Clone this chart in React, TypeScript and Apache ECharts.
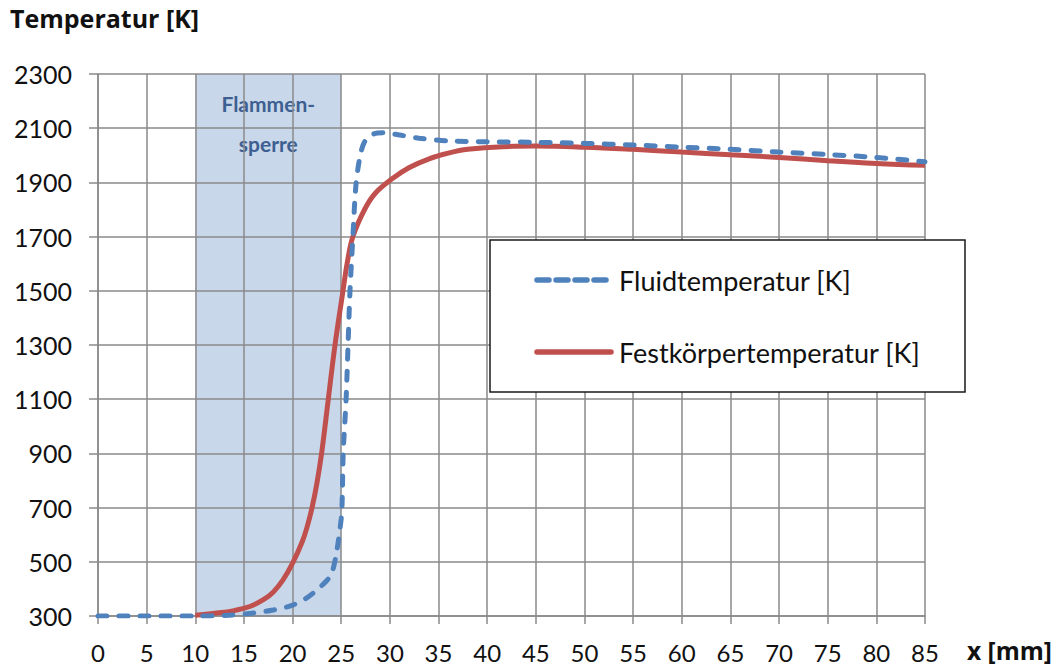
import React, { useEffect, useRef } from "react";
import * as echarts from "echarts";

const xTicks = { min: 0, max: 85, interval: 5 };
const yTicks = { min: 300, max: 2300, interval: 200 };

const fluidX = [0, 5, 10, 13, 15.7, 18, 20, 21.5, 22.5, 23.5, 24, 24.5, 25, 25.1, 25.2, 25.5, 25.7, 25.9, 26.2, 26.5, 26.9, 27.4, 28.3, 29.3, 31, 33, 36, 40, 45, 50, 55, 60, 65, 70, 75, 80, 85];
const fluidT = [300, 300, 300, 302, 310, 322, 340, 368, 396, 430, 455, 530, 660, 730, 900, 1100, 1300, 1500, 1700, 1886, 1990, 2050, 2078, 2083, 2075, 2063, 2053, 2050, 2048, 2044, 2038, 2030, 2022, 2012, 2003, 1992, 1976];

const solidX = [10, 12, 14, 15.6, 17, 18, 19, 20, 21, 21.5, 22, 22.5, 23, 23.67, 24.36, 25.18, 25.6, 26.2, 27.4, 28.5, 30.3, 32, 34.1, 36, 38, 41.6, 45, 50, 55, 60, 65, 70, 75, 80, 85];
const solidT = [303, 310, 320, 335, 360, 388, 432, 495, 575, 630, 700, 790, 905, 1100, 1300, 1500, 1600, 1700, 1800, 1860, 1915, 1955, 1988, 2008, 2022, 2032, 2034, 2030, 2022, 2012, 2002, 1992, 1980, 1970, 1963];

const seriesNames = ["Fluidtemperatur [K]", "Festkörpertemperatur [K]"];
const seriesColors = ["#4f81bd", "#c0504d"];
const shadeRange = [10, 25];
const shadeLabel = "Flammen-\nsperre";
const yTitle = "Temperatur [K]";
const xTitle = "x [mm]";

const FONT = "Lato, 'Open Sans', sans-serif";
const TITLE_FONT = "'Open Sans', Lato, sans-serif";

export default function App() {
  const ref = useRef<HTMLDivElement>(null);
  useEffect(() => {
    if (!ref.current) return;
    const chart = echarts.init(ref.current, null, { renderer: "svg" });
    const grid = "#8a8a8a";
    chart.setOption({
      animation: false,
      backgroundColor: "#ffffff",
      textStyle: { fontFamily: FONT },
      grid: { left: 98, top: 74, right: 133, bottom: 54, containLabel: false },
      graphic: [
        {
          type: "text",
          left: 10,
          top: 5,
          style: { text: yTitle, font: `bold 25px ${TITLE_FONT}`, fill: "#111" },
        },
        {
          type: "text",
          left: 967,
          top: 638,
          style: { text: xTitle, font: `bold 24.5px ${TITLE_FONT}`, fill: "#111" },
        },
        {
          type: "rect",
          z: 10,
          shape: { x: 490, y: 240, width: 475, height: 152 },
          style: { fill: "#ffffff", stroke: "#1a1a1a", lineWidth: 1.5 },
        },
        {
          type: "line",
          z: 11,
          shape: { x1: 537, y1: 280, x2: 611, y2: 280 },
          style: { stroke: seriesColors[0], lineWidth: 5.5, lineDash: [12, 7], lineCap: "round" },
        },
        {
          type: "line",
          z: 11,
          shape: { x1: 537, y1: 352, x2: 611, y2: 352 },
          style: { stroke: seriesColors[1], lineWidth: 5.5, lineCap: "round" },
        },
      ],
      legend: {
        data: seriesNames,
        orient: "vertical",
        left: 613,
        top: 265,
        padding: 0,
        itemGap: 42,
        itemWidth: 0,
        itemHeight: 0,
        z: 20,
        textStyle: { fontFamily: FONT, fontSize: 27, color: "#111", lineHeight: 30 },
      },
      xAxis: {
        type: "value",
        min: xTicks.min,
        max: xTicks.max,
        interval: xTicks.interval,
        z: 2,
        axisLine: { show: true, lineStyle: { color: grid, width: 1.5 } },
        axisTick: { show: true, length: 8, lineStyle: { color: grid, width: 1.5 } },
        splitLine: { show: true, lineStyle: { color: grid, width: 1.5 } },
        axisLabel: { fontFamily: FONT, fontSize: 24, color: "#111", margin: 24 },
      },
      yAxis: {
        type: "value",
        min: yTicks.min,
        max: yTicks.max,
        interval: yTicks.interval,
        z: 2,
        axisLine: { show: true, lineStyle: { color: grid, width: 1.5 } },
        axisTick: { show: true, length: 9, lineStyle: { color: grid, width: 1.5 } },
        splitLine: { show: true, lineStyle: { color: grid, width: 1.5 } },
        axisLabel: {
          fontFamily: FONT,
          fontSize: 25,
          color: "#111",
          margin: 26,
          formatter: (v: number) => String(v),
        },
      },
      series: [
        {
          type: "line",
          name: "shade",
          z: 0,
          data: [],
          silent: true,
          markArea: {
            z: 1,
            silent: true,
            itemStyle: { color: "#c9d7ea" },
            label: {
              show: true,
              position: "insideTop",
              distance: 9,
              formatter: shadeLabel,
              fontFamily: FONT,
              fontWeight: "bold",
              fontSize: 21,
              lineHeight: 40,
              color: "#3d5f91",
            },
            data: [[{ xAxis: shadeRange[0] }, { xAxis: shadeRange[1] }]],
          },
        },
        {
          type: "line",
          name: seriesNames[1],
          z: 3,
          data: solidX.map((x, i) => [x, solidT[i]]),
          showSymbol: false,
          symbol: "none",
          smooth: 0.4,
          itemStyle: { color: seriesColors[1] },
          lineStyle: { color: seriesColors[1], width: 5 },
        },
        {
          type: "line",
          name: seriesNames[0],
          z: 4,
          data: fluidX.map((x, i) => [x, fluidT[i]]),
          showSymbol: false,
          symbol: "none",
          smooth: 0.3,
          itemStyle: { color: seriesColors[0] },
          lineStyle: { color: seriesColors[0], width: 5, type: [9, 12], cap: "round" },
        },
      ],
    });
    return () => chart.dispose();
  }, []);
  return (
    <div
      ref={ref}
      style={{ position: "fixed", left: 0, top: 0, width: 1058, height: 670, background: "#fff" }}
    />
  );
}
